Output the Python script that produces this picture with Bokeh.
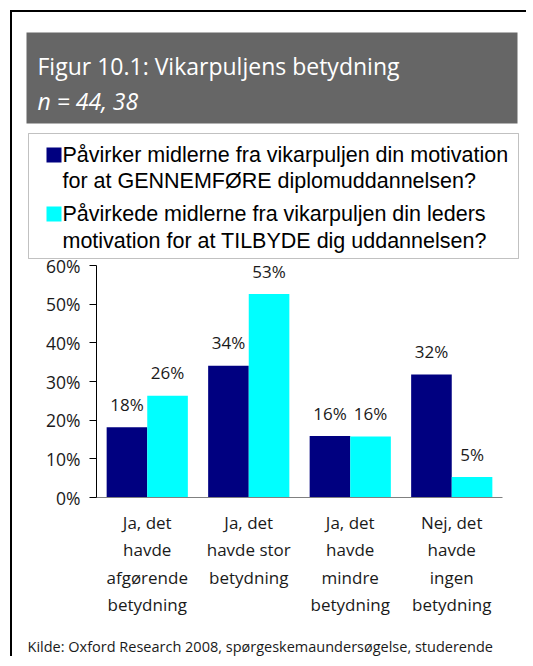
from bokeh.plotting import figure
from bokeh.models import (BoxAnnotation, Label, LabelSet, ColumnDataSource,
                          FixedTicker, PrintfTickFormatter, Range1d, LinearAxis)
from bokeh.core.properties import value
from bokeh.embed import file_html
from bokeh.resources import INLINE

# ---------------- data ----------------
categories = ["Ja, det\nhavde\nafgørende\nbetydning",
              "Ja, det\nhavde stor\nbetydning",
              "Ja, det\nhavde\nmindre\nbetydning",
              "Nej, det\nhavde\ningen\nbetydning"]
series_names = ["Påvirker midlerne fra vikarpuljen din motivation\nfor at GENNEMFØRE diplomuddannelsen?",
                "Påvirkede midlerne fra vikarpuljen din leders\nmotivation for at TILBYDE dig uddannelsen?"]
gennemfoere = [18.2, 34.1, 15.9, 31.8]
tilbyde = [26.3, 52.6, 15.8, 5.3]
y_ticks = [0, 10, 20, 30, 40, 50, 60]
title_text = "Figur 10.1: Vikarpuljens betydning"
subtitle_text = "n = 44, 38"
source_text = "Kilde: Oxford Research 2008, spørgeskemaundersøgelse, studerende"

NAVY = "#000080"
CYAN = "#00FFFF"
FONT = "Open Sans"

# ---------------- layout (canvas pixels) ----------------
W, H = 526, 656
FL, FR, FT, FB = 96, 502, 265, 497   # chart area edges on the canvas
X0, X1, Y0, Y1 = 0, 4, 0, 60

def dx(px):
    return X0 + (px - FL) * (X1 - X0) / (FR - FL)

def dy(py):
    return Y0 + (FB - py) * (Y1 - Y0) / (FB - FT)

p = figure(width=W, height=H, x_range=Range1d(dx(0), dx(W)), y_range=Range1d(dy(H), dy(0)),
           output_backend="svg", toolbar_location=None,
           x_axis_type=None, y_axis_type=None,
           min_border_left=0, min_border_right=0, min_border_top=0, min_border_bottom=0)
p.grid.visible = False
p.outline_line_color = None
p.background_fill_color = "white"
p.border_fill_color = "white"

# ---------------- bars ----------------
n = len(categories)
src_a = ColumnDataSource(dict(x=[i + 0.5 - 0.2 for i in range(n)], top=gennemfoere,
                              lab=[f"{round(v)}%" for v in gennemfoere]))
src_b = ColumnDataSource(dict(x=[i + 0.5 + 0.2 for i in range(n)], top=tilbyde,
                              lab=[f"{round(v)}%" for v in tilbyde]))
p.vbar(x="x", top="top", bottom=0, width=0.4, source=src_a, fill_color=NAVY, line_color=None)
p.vbar(x="x", top="top", bottom=0, width=0.4, source=src_b, fill_color=CYAN, line_color=None)

for src in (src_a, src_b):
    p.add_layout(LabelSet(x="x", y="top", text="lab", source=src, y_offset=23,
                          text_align="center", text_baseline="middle",
                          text_font=value(FONT), text_font_size="17px", text_color="#1a1a1a"))

# ---------------- axes ----------------
yax = LinearAxis(fixed_location=X0, bounds=(Y0, Y1))
yax.ticker = FixedTicker(ticks=y_ticks)
yax.formatter = PrintfTickFormatter(format="%d%%")
yax.axis_line_color = "black"
yax.major_tick_line_color = "black"
yax.major_tick_out = 7
yax.major_tick_in = 0
yax.minor_tick_line_color = None
yax.major_label_standoff = 9
yax.major_label_text_font = FONT
yax.major_label_text_font_size = "17.5px"
yax.major_label_text_color = "#1a1a1a"
p.add_layout(yax, "left")

xticks = [i + 0.5 for i in range(n)]
xax = LinearAxis(fixed_location=Y0, bounds=(X0, X1))
xax.ticker = FixedTicker(ticks=xticks)
xax.major_label_overrides = {t: c for t, c in zip(xticks, categories)}
xax.axis_line_color = "#808080"
xax.major_tick_line_color = None
xax.minor_tick_line_color = None
xax.major_label_standoff = 7
xax.major_label_text_font = FONT
xax.major_label_text_font_size = "17px"
xax.major_label_text_color = "#1a1a1a"
xax.major_label_text_line_height = 1.2
p.add_layout(xax, "below")

# ---------------- decorations ----------------
# outer frame (left and top edges; the others run off the picture)
p.add_layout(BoxAnnotation(left=dx(9.5), right=dx(11.5), top=dy(9.5), bottom=dy(H),
                           fill_color="black", fill_alpha=1, line_color=None))
p.add_layout(BoxAnnotation(left=dx(9.5), right=dx(W), top=dy(9.5), bottom=dy(11.5),
                           fill_color="black", fill_alpha=1, line_color=None))
# title band
p.add_layout(BoxAnnotation(left=dx(26), right=dx(517), top=dy(32), bottom=dy(123),
                           fill_color="#666666", fill_alpha=1, line_color=None))
p.add_layout(Label(x=dx(37), y=dy(65), text=title_text, text_color="white",
                   text_font=FONT, text_font_size="23px", text_baseline="middle"))
p.add_layout(Label(x=dx(37), y=dy(100), text=subtitle_text, text_color="white",
                   text_font=FONT, text_font_size="23px", text_font_style="italic",
                   text_baseline="middle"))

# legend box
p.add_layout(BoxAnnotation(left=dx(28), right=dx(518), top=dy(133), bottom=dy(258),
                           fill_color="white", fill_alpha=1, line_color="#333333", line_width=1))
leg_colors = [NAVY, CYAN]
sq_tops = [147, 206]
line_mids = [[154, 180], [213, 240]]
for name, col, st, mids in zip(series_names, leg_colors, sq_tops, line_mids):
    p.add_layout(BoxAnnotation(left=dx(46), right=dx(61), top=dy(st), bottom=dy(st + 15),
                               fill_color=col, fill_alpha=1, line_color=None))
    for line, m in zip(name.split("\n"), mids):
        p.add_layout(Label(x=dx(62), y=dy(m), text=line, text_color="black",
                           text_font="Liberation Sans", text_font_size="21.5px",
                           text_baseline="middle"))

# source
p.add_layout(Label(x=dx(27), y=dy(646), text=source_text, text_color="#1a1a1a",
                   text_font=FONT, text_font_size="14.5px", text_baseline="middle"))

open("out.html", "w").write(file_html(p, INLINE))
